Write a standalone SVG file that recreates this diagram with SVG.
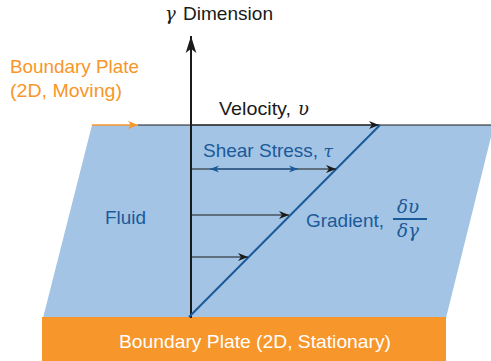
<svg xmlns="http://www.w3.org/2000/svg" width="491" height="361" viewBox="0 0 491 361">
<defs>
<style>
.t{font-family:"Liberation Sans","Noto Sans",sans-serif;font-size:19px}
.m{font-family:"DejaVu Serif","Liberation Serif",serif;font-style:italic}
.blue{fill:#1b5a99}
.or{fill:#f7962a}
.blk{fill:#1a1a1a}
</style>
<marker id="ah" viewBox="0 0 10 10" refX="10" refY="5" markerWidth="10" markerHeight="10" markerUnits="userSpaceOnUse" orient="auto"><path d="M0,1 L10,5 L0,9 L3,5 Z" fill="#1a1a1a"/></marker>
<marker id="ahb" viewBox="0 0 10 10" refX="10" refY="5" markerWidth="9" markerHeight="9" markerUnits="userSpaceOnUse" orient="auto-start-reverse"><path d="M0,1 L10,5 L0,9 L3,5 Z" fill="#1b5a99"/></marker>
<marker id="aho" viewBox="0 0 10 10" refX="10" refY="5" markerWidth="10" markerHeight="10" markerUnits="userSpaceOnUse" orient="auto"><path d="M0,1 L10,5 L0,9 L3,5 Z" fill="#f7962a"/></marker>
<marker id="ahup" viewBox="0 0 10 16" refX="5" refY="0" markerWidth="12" markerHeight="17" markerUnits="userSpaceOnUse" orient="0"><path d="M5,0 L10,16 L5,12 L0,16 Z" fill="#1a1a1a"/></marker>
</defs>
<g id="fluid">
<polygon points="92,125 494,125 446,318 43,318" fill="#a3c4e5"/>
<text class="t blue" x="105" y="224" textLength="41" lengthAdjust="spacingAndGlyphs">Fluid</text>
</g>
<g id="stationary-plate">
<rect x="42" y="317" width="404" height="44" fill="#f7962a"/>
<text class="t" x="255" y="348" text-anchor="middle" fill="#ffffff" font-size="20" textLength="272" lengthAdjust="spacingAndGlyphs">Boundary Plate (2D, Stationary)</text>
</g>
<g id="moving-plate">
<text class="t or" x="10" y="73" textLength="129" lengthAdjust="spacingAndGlyphs">Boundary Plate</text>
<text class="t or" x="10" y="97" textLength="112" lengthAdjust="spacingAndGlyphs">(2D, Moving)</text>
</g>
<g id="connectors">
<line x1="92" y1="125" x2="138" y2="125" stroke="#f7962a" stroke-width="1.5" marker-end="url(#aho)"/>
<line x1="138" y1="125" x2="491" y2="125" stroke="#1a1a1a" stroke-width="1.2"/>
<line x1="191" y1="125" x2="379" y2="125" stroke="#1a1a1a" stroke-width="1.2" marker-end="url(#ah)"/>
<line x1="191" y1="318" x2="191" y2="36" stroke="#1a1a1a" stroke-width="2" marker-end="url(#ahup)"/>
<line x1="189" y1="317" x2="380" y2="125" stroke="#1b5a99" stroke-width="2"/>
<line x1="191" y1="169" x2="336" y2="169" stroke="#1a1a1a" stroke-width="1.2" marker-end="url(#ah)"/>
<line x1="210" y1="169" x2="298" y2="169" stroke="#1b5a99" stroke-width="1.2" marker-start="url(#ahb)" marker-end="url(#ahb)"/>
<line x1="191" y1="215" x2="289" y2="215" stroke="#1a1a1a" stroke-width="1.2" marker-end="url(#ah)"/>
<line x1="191" y1="257" x2="248" y2="257" stroke="#1a1a1a" stroke-width="1.2" marker-end="url(#ah)"/>
</g>
<g id="axis-label">
<text class="m blk" x="165" y="20" font-size="18">γ</text>
<text class="t blk" x="183" y="20" textLength="90" lengthAdjust="spacingAndGlyphs">Dimension</text>
</g>
<g id="velocity-label">
<text class="t blk" x="219" y="115" textLength="72" lengthAdjust="spacingAndGlyphs">Velocity,</text>
<text class="m blk" x="298" y="115" font-size="18">υ</text>
</g>
<g id="shear-label">
<text class="t blue" x="203" y="157" font-size="17.5">Shear Stress, <tspan class="m" font-size="17">τ</tspan></text>
</g>
<g id="gradient-label">
<text class="t blue" x="306" y="227" textLength="78" lengthAdjust="spacingAndGlyphs">Gradient,</text>
<text class="m blue" x="408" y="213" font-size="18" text-anchor="middle" textLength="22" lengthAdjust="spacingAndGlyphs">δυ</text>
<line x1="393" y1="219" x2="427" y2="219" stroke="#1b5a99" stroke-width="1.8"/>
<text class="m blue" x="408" y="237" font-size="18" text-anchor="middle" textLength="22" lengthAdjust="spacingAndGlyphs">δγ</text>
</g>
</svg>
